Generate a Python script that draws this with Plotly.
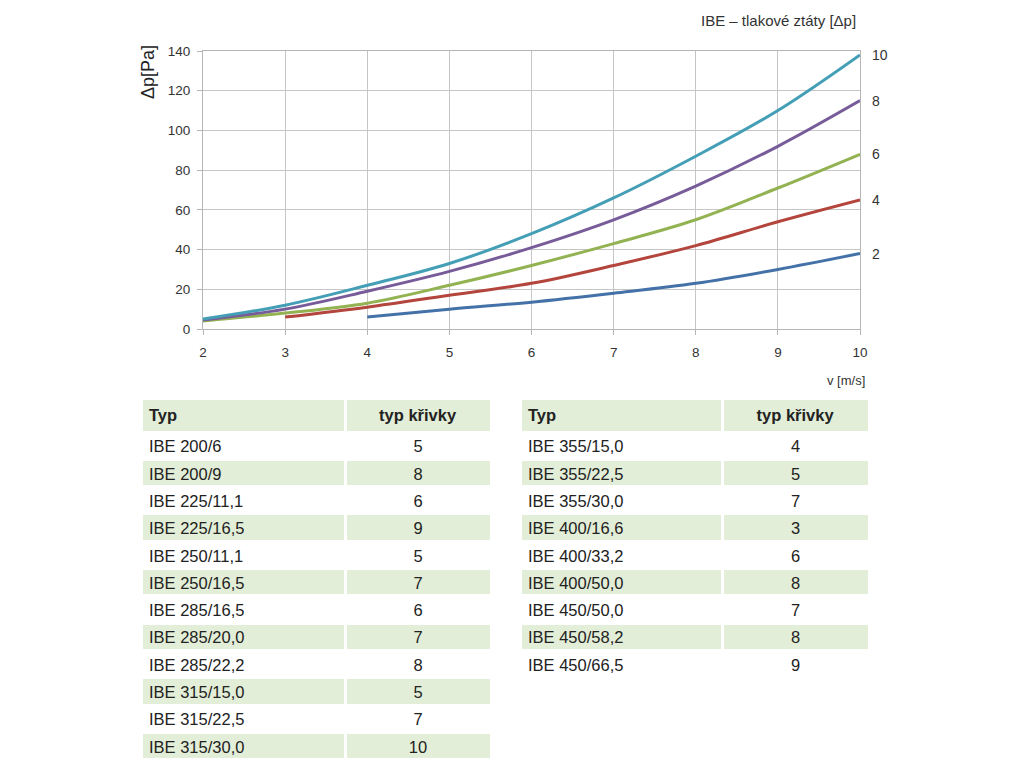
import plotly.graph_objects as go

W, H = 1024, 768
OFF = 8  # page body margin of the browser

# ---- curve data (v [m/s] vs Δp [Pa]) ----
v_10 = [2, 3, 4, 5, 6, 7, 8, 9, 10]
dp_10 = [5, 12, 22, 33, 48, 66, 87, 110, 138]
v_8 = [2, 3, 4, 5, 6, 7, 8, 9, 10]
dp_8 = [4.5, 10, 19, 29, 41, 55, 72, 92, 115]
v_6 = [2, 3, 4, 5, 6, 7, 8, 9, 10]
dp_6 = [4, 8, 13, 22, 32, 43, 55, 71, 88]
v_4 = [3, 4, 5, 6, 7, 8, 9, 10]
dp_4 = [6, 11, 17, 23, 32, 42, 54, 65]
v_2 = [4, 5, 6, 7, 8, 9, 10]
dp_2 = [6, 10, 13.5, 18, 23, 30, 38]

curve_labels = ["2", "4", "6", "8", "10"]
x_ticks = [2, 3, 4, 5, 6, 7, 8, 9, 10]
y_ticks = [0, 20, 40, 60, 80, 100, 120, 140]

# ---- table data ----
left_typ = ["IBE 200/6", "IBE 200/9", "IBE 225/11,1", "IBE 225/16,5", "IBE 250/11,1",
            "IBE 250/16,5", "IBE 285/16,5", "IBE 285/20,0", "IBE 285/22,2",
            "IBE 315/15,0", "IBE 315/22,5", "IBE 315/30,0"]
left_curve = ["5", "8", "6", "9", "5", "7", "6", "7", "8", "5", "7", "10"]
right_typ = ["IBE 355/15,0", "IBE 355/22,5", "IBE 355/30,0", "IBE 400/16,6",
             "IBE 400/33,2", "IBE 400/50,0", "IBE 450/50,0", "IBE 450/58,2", "IBE 450/66,5"]
right_curve = ["4", "5", "7", "3", "6", "8", "7", "8", "9"]
headers = ["Typ", "typ křivky"]

colors = {"2": "#4472A8", "4": "#B3453D", "6": "#93B252", "8": "#785C99", "10": "#449FB6"}
series = [("2", v_2, dp_2), ("4", v_4, dp_4), ("6", v_6, dp_6), ("8", v_8, dp_8), ("10", v_10, dp_10)]

def px(x):
    return (x - OFF) / W

def py(y):
    return 1 - (y - OFF) / H

fig = go.Figure()
for name, xs, ys in series:
    fig.add_trace(go.Scatter(x=xs, y=ys, mode="lines",
                             line=dict(color=colors[name], width=3, shape="spline", smoothing=1.0),
                             showlegend=False, hoverinfo="skip"))

annotations = []
for name, xs, ys in series:
    annotations.append(dict(x=xs[-1], y=ys[-1], xref="x", yref="y", text=name, showarrow=False,
                            xanchor="left", yanchor="middle", xshift=10,
                            font=dict(size=14, color="#333333")))
annotations.append(dict(x=px(858), y=py(20), xref="paper", yref="paper", text="IBE – tlakové ztáty [Δp]",
                        showarrow=False, xanchor="right", yanchor="middle",
                        font=dict(size=15, color="#333333")))
annotations.append(dict(x=px(148), y=py(72), xref="paper", yref="paper", text="Δp[Pa]", textangle=-90,
                        showarrow=False, xanchor="center", yanchor="middle",
                        font=dict(size=18, color="#222222")))
annotations.append(dict(x=px(867), y=py(380), xref="paper", yref="paper", text="v [m/s]",
                        showarrow=False, xanchor="right", yanchor="middle",
                        font=dict(size=13, color="#333333")))

row_h = 27.3
green = "#E2EED7"

def add_table(x0, x1, y0, typ, crv, colw):
    n = len(typ) + 1
    fills = [green if i % 2 == 1 else "white" for i in range(len(typ))]
    fig.add_trace(go.Table(
        domain=dict(x=[px(x0), px(x1)], y=[py(y0 + n * row_h + 8), py(y0)]),
        columnwidth=colw,
        header=dict(values=["<b>%s</b>" % h for h in headers], fill_color=green,
                    line=dict(color="white", width=3), align=["left", "center"],
                    height=row_h, font=dict(size=16.5, color="#222222", family="Liberation Sans")),
        cells=dict(values=[typ, crv], fill_color=[fills, fills],
                   line=dict(color="white", width=3), align=["left", "center"],
                   height=row_h, font=dict(size=16.5, color="#222222", family="Liberation Sans")),
    ))

add_table(141, 491, 398, left_typ, left_curve, [204, 146])
add_table(520, 869, 398, right_typ, right_curve, [202, 147])

fig.update_layout(
    width=W, height=H,
    margin=dict(l=0, r=0, t=0, b=0, pad=0, autoexpand=False),
    paper_bgcolor="white", plot_bgcolor="white",
    font=dict(family="Liberation Sans", size=13, color="#333333"),
    xaxis=dict(domain=[px(203), px(860)], range=[2, 10], tickvals=x_ticks, automargin=False,
               showgrid=True, gridcolor="#C6C6C6", gridwidth=1,
               showline=True, linecolor="#B5B5B5", mirror=True,
               ticks="outside", ticklen=5, tickcolor="#B5B5B5", zeroline=False,
               ticklabelstandoff=6,
               tickfont=dict(size=13.5, color="#333333")),
    yaxis=dict(domain=[py(329), py(51)], range=[0, 140], tickvals=y_ticks, automargin=False,
               showgrid=True, gridcolor="#C6C6C6", gridwidth=1,
               showline=True, linecolor="#B5B5B5", mirror=True,
               ticks="outside", ticklen=5, tickcolor="#B5B5B5", zeroline=False,
               ticklabelstandoff=4,
               tickfont=dict(size=13.5, color="#333333")),
    annotations=annotations,
)

fig.write_html("out.html")
